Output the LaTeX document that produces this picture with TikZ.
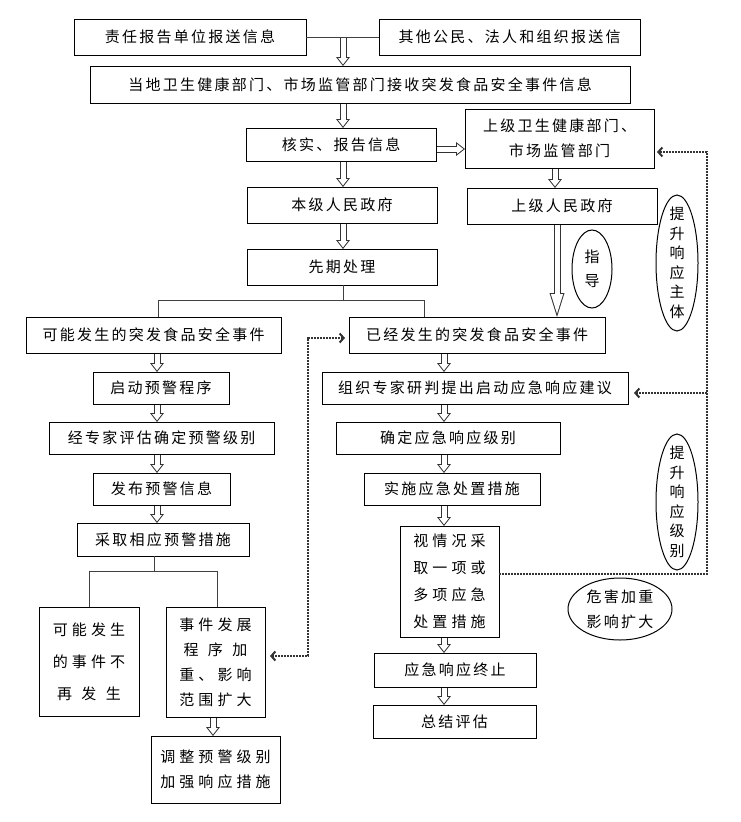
\documentclass[tikz,border=0pt]{standalone}
\usepackage{fontspec}
\setmainfont{Noto Sans CJK SC}[LetterSpace=15]
\usetikzlibrary{arrows.meta}

\newcommand{\boxfont}{\fontsize{15}{25}\selectfont}
\newcommand{\widefont}[1]{\fontsize{15}{#1}\selectfont\addfontfeature{LetterSpace=27}}

\begin{document}
\begin{tikzpicture}[x=1pt, y=-1pt,
  box/.style={draw, rectangle, line width=1pt, inner sep=0pt, outer sep=0pt, align=center, font=\boxfont},
  harrow/.style={draw=white, line width=5pt, shorten <=0.6pt, shorten >=1.6pt,
    -{Triangle[length=6.4pt,width=9.9pt,line width=0pt]},
    preaction={draw=black!80, line width=7pt, shorten >=0pt,
      -{Triangle[length=9pt,width=14pt,line width=0pt]}}},
  harrowlong/.style={draw=white, line width=5pt, shorten <=0.6pt, shorten >=3.4pt,
    -{Triangle[length=19.6pt,width=12.3pt,line width=0pt]},
    preaction={draw=black!80, line width=7pt, shorten >=0pt,
      -{Triangle[length=24pt,width=15pt,line width=0pt]}}},
  tree/.style={draw=black!75, line width=0.9pt},
  dotline/.style={draw=black!80, line width=2pt, densely dotted},
  dbarb/.tip={Straight Barb[length=4pt,width=9pt]}]

  \useasboundingbox (0,0) rectangle (740,822);

  \node[box, minimum width=232pt, minimum height=36pt] (zrbg) at (190,37) {责任报告单位报送信息};
  \node[box, minimum width=261pt, minimum height=36pt] (qtgm) at (509.5,37) {其他公民、法人和组织报送信};
  \node[box, minimum width=540pt, minimum height=37pt] (ddws) at (360,84.5) {当地卫生健康部门、市场监管部门接收突发食品安全事件信息};
  \node[box, minimum width=190pt, minimum height=33pt] (hsbg) at (341,144.5) {核实、报告信息};
  \node[box, minimum width=189pt, minimum height=59pt] (sjws) at (559.5,138.5) {上级卫生健康部门、\\市场监管部门};
  \node[box, minimum width=190pt, minimum height=36pt] (bjzf) at (342,205) {本级人民政府};
  \node[box, minimum width=190pt, minimum height=36pt] (sjzf) at (562,206) {上级人民政府};
  \node[box, minimum width=190pt, minimum height=36pt] (xqcl) at (342,267) {先期处理};
  \node[box, minimum width=255pt, minimum height=36pt] (knfs) at (153.5,335) {可能发生的突发食品安全事件};
  \node[box, minimum width=256pt, minimum height=36pt] (yjfs) at (477,335) {已经发生的突发食品安全事件};
  \node[box, minimum width=136pt, minimum height=32pt] (qdyj) at (161,388) {启动预警程序};
  \node[box, minimum width=306pt, minimum height=32pt] (zzzj) at (475,388) {组织专家研判提出启动应急响应建议};
  \node[box, minimum width=225pt, minimum height=32pt] (jzjpg) at (161.5,438) {经专家评估确定预警级别};
  \node[box, minimum width=224pt, minimum height=32pt] (qdjb) at (448,438) {确定应急响应级别};
  \node[box, minimum width=137pt, minimum height=32pt] (fbyj) at (161.5,489) {发布预警信息};
  \node[box, minimum width=176pt, minimum height=32pt] (sscz) at (452,489) {实施应急处置措施};
  \node[box, minimum width=172pt, minimum height=33pt] (cqyj) at (163,539.5) {采取相应预警措施};
  \node[box, minimum width=99pt, minimum height=111pt, font=\widefont{27}] (sqk) at (449.5,581.5) {视情况采\\取一项或\\多项应急\\处置措施};
  \node[box, minimum width=100pt, minimum height=109pt, font=\widefont{32}] (bzfs) at (89,661.5) {可能发生\\的事件不\\再\hspace{9.5pt}发\hspace{9.5pt}生};
  \node[box, minimum width=99pt, minimum height=110pt, font=\widefont{25}] (sjfz) at (215.5,662) {事件发展\\程\hspace{9.5pt}序\hspace{9.5pt}加\\重、影响\\范围扩大};
  \node[box, minimum width=129pt, minimum height=67pt, font=\widefont{25}] (tzyj) at (215.5,769.5) {调整预警级别\\加强响应措施};
  \node[box, minimum width=162pt, minimum height=34pt] (yjzz) at (455,670) {应急响应终止};
  \node[box, minimum width=163pt, minimum height=33pt] (zjpg) at (454.5,721.5) {总结评估};

  \node[align=center, font=\fontsize{15}{24}\selectfont] (zd) at (592,269) {指\\导};
  \node[align=center, font=\fontsize{15}{19.5}\selectfont] (tszt) at (677,263) {提\\升\\响\\应\\主\\体};
  \node[align=center, font=\fontsize{15}{19.5}\selectfont] (tsjb) at (677,502) {提\\升\\响\\应\\级\\别};
  \node[align=center, font=\boxfont] (whjz) at (620,609) {危害加重\\影响扩大};
  \draw[line width=1pt] (zd.center) ellipse [x radius=20pt, y radius=39pt];
  \draw[line width=1pt] (tszt.center) ellipse [x radius=21pt, y radius=68pt];
  \draw[line width=1pt] (tsjb.center) ellipse [x radius=21pt, y radius=68pt];
  \draw[line width=1pt] (whjz.center) ellipse [x radius=52pt, y radius=31pt];

  \coordinate (mx) at (343,0);
  \coordinate (lx) at (157,0);
  \coordinate (rx) at (444,0);
  \coordinate (sx) at (555,0);
  \coordinate (gx) at (557,0);
  \coordinate (bx) at (213,0);
  \coordinate (mid) at (343,37);
  \coordinate (hy) at ([yshift=-4.5pt]hsbg.east);

  \draw[tree] (zrbg) -- (qtgm);
  \draw[harrow] (mid) -- (mid |- ddws.north);
  \draw[harrow] (ddws.south -| mx) -- (hsbg.north -| mx);
  \draw[harrow] (hsbg.south -| mx) -- (bjzf.north -| mx);
  \draw[harrow] (bjzf.south -| mx) -- (xqcl.north -| mx);
  \draw[harrow] (hy) -- (hy -| sjws.west);
  \draw[harrow] (sjws.south -| sx) -- (sjzf.north -| sx);
  \draw[harrowlong] (sjzf.south -| gx) -- (yjfs.north -| gx);

  \coordinate (kl) at (158,300);
  \coordinate (kr) at (424,300);
  \draw[tree] (xqcl.south -| mx) -- (mx |- kl);
  \draw[tree] (knfs.north -| kl) |- (kr) -- (kr |- yjfs.north);

  \draw[harrow] (knfs.south -| lx) -- (qdyj.north -| lx);
  \draw[harrow] (qdyj.south -| lx) -- (jzjpg.north -| lx);
  \draw[harrow] (jzjpg.south -| lx) -- (fbyj.north -| lx);
  \draw[harrow] (fbyj.south -| lx) -- (cqyj.north -| lx);

  \draw[harrow] (yjfs.south -| rx) -- (zzzj.north -| rx);
  \draw[harrow] (zzzj.south -| rx) -- (qdjb.north -| rx);
  \draw[harrow] (qdjb.south -| rx) -- (sscz.north -| rx);
  \draw[harrow] (sscz.south -| rx) -- (sqk.north -| rx);
  \draw[harrow] (sqk.south -| rx) -- (yjzz.north -| rx);
  \draw[harrow] (yjzz.south -| rx) -- (zjpg.north -| rx);

  \coordinate (cm) at (154,571);
  \coordinate (cl) at (89,571);
  \coordinate (cr) at (217,571);
  \draw[tree] (cqyj.south -| cm) -- (cm);
  \draw[tree] (bzfs.north -| cl) |- (cr) -- (cr |- sjfz.north);
  \draw[harrow] (sjfz.south -| bx) -- (tzyj.north -| bx);

  \coordinate (dr) at (707,0);
  \coordinate (up) at ([xshift=3pt,yshift=-13.5pt]sjws.east);
  \coordinate (zz) at ([xshift=6pt,yshift=-5pt]zzzj.east);
  \coordinate (sq) at ([yshift=7.5pt]sqk.east);
  \draw[dotline, -dbarb] (sq) -| (dr |- up) -- (up);
  \draw[dotline, -dbarb] (dr |- zz) -- (zz);

  \coordinate (la) at ([xshift=-4pt,yshift=-3pt]yjfs.west);
  \coordinate (lb) at ([xshift=5pt,yshift=6pt]sjfz.east);
  \coordinate (lv) at (308,0);
  \draw[dotline, dbarb-dbarb] (la) -| (lv |- lb) -- (lb);
\end{tikzpicture}
\end{document}
